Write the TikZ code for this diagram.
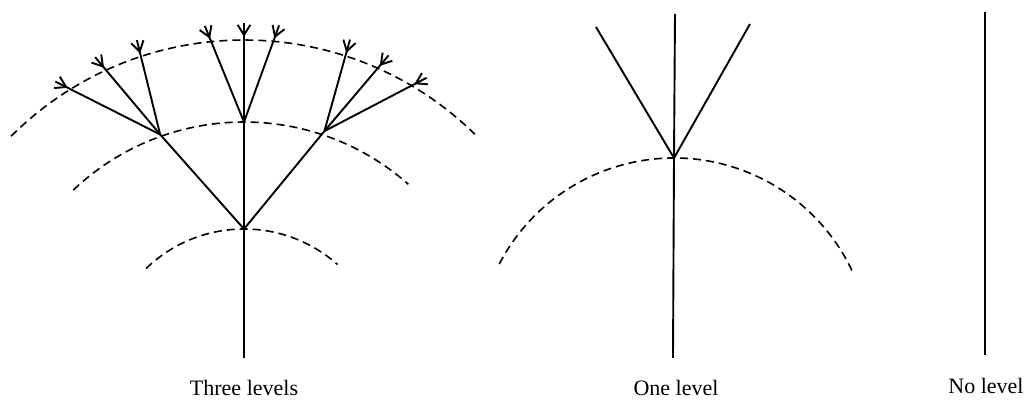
\documentclass[tikz,border=0pt]{standalone}
\usepackage{fontspec}
\setmainfont{Liberation Serif}
\usetikzlibrary{calc}
\begin{document}
\begin{tikzpicture}[x=1pt, y=1pt, line width=1.9pt,
    ring/.style={line width=1.6pt, dash pattern=on 8pt off 5pt},
    lbl/.style={font=\fontsize{22}{26}\selectfont}]
    \useasboundingbox (0,0) rectangle (1029,401);

    % three levels
    \coordinate (o) at (244,31);
    \draw[ring] ($(o)+(134:141)$) arc[start angle=134, end angle=48.4, radius=141];
    \draw[ring] ($(o)+(133.5:248)$) arc[start angle=133.5, end angle=48.5, radius=248];
    \draw[ring] ($(o)+(134.9:330)$) arc[start angle=134.9, end angle=45.6, radius=330];
    \coordinate (root) at (244,43);
    \coordinate (a) at ($(o)+(90:141)$);
    \coordinate (b1) at ($(o)+(109.6:250)$);
    \coordinate (b2) at ($(o)+(90:248)$);
    \coordinate (b3) at ($(o)+(71.4:252)$);
    \foreach \n/\ang in {t1/121.7, t2/114.7, t3/108.2, t4/95.7, t5/90,
                         t6/84.9, t7/72.1, t8/66.1, t9/59.5}
        \coordinate (\n) at ($(o)+(\ang:330)$);
    \draw (root) -- (a);
    \draw (a) -- (b1);
    \draw (a) -- (b2);
    \draw (a) -- (b3);
    \foreach \f/\t in {b1/t1, b1/t2, b1/t3, b2/t4, b2/t5, b2/t6, b3/t7, b3/t8, b3/t9} {
        \draw (\f) -- (\t) -- ($(\t)!-17pt!(\f)$);
        \coordinate (v) at ($(\t)!-5pt!(\f)$);
        \draw ($(v)!-12pt!32:(\t)$) -- (v) -- ($(v)!-12pt!-32:(\t)$);
    }
    \node[lbl] (three) at (244,13) {Three levels};

    % one level
    \coordinate (p) at (674,46);
    \draw[ring] ($(p)+(152.5:197)$) arc[start angle=152.5, end angle=25.4, radius=197];
    \coordinate (stem) at (673,43);
    \coordinate (c) at ($(p)+(90:197)$);
    \coordinate (cl) at (596,374);
    \coordinate (cm) at (675,387);
    \coordinate (cr) at (750,377);
    \draw (stem) -- (c) -- (cm);
    \draw (c) -- (cl);
    \draw (c) -- (cr);
    \node[lbl] (one) at (676,13) {One level};

    % no level
    \coordinate (d0) at (985,46);
    \coordinate (d1) at (985,389);
    \draw (d0) -- (d1);
    \node[lbl] (none) at (986,15) {No level};
\end{tikzpicture}
\end{document}
